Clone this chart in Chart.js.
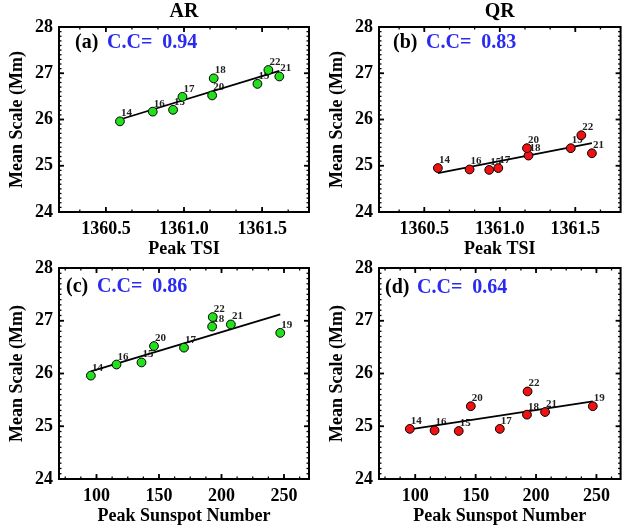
<!DOCTYPE html>
<html>
<head>
<meta charset="utf-8">
<title>Mean Scale vs Peak TSI / Peak Sunspot Number</title>
<script src="https://cdn.jsdelivr.net/npm/chart.js"></script>
<style>
  body { margin: 0; background: #fff; }
  .panel { position: absolute; }
</style>
</head>
<body>
<div class="panel" style="left:0;top:0;width:320px;height:262px"><canvas id="panelA"></canvas></div>
<div class="panel" style="left:320px;top:0;width:306px;height:262px"><canvas id="panelB"></canvas></div>
<div class="panel" style="left:0;top:250px;width:320px;height:281px"><canvas id="panelC"></canvas></div>
<div class="panel" style="left:320px;top:250px;width:306px;height:281px"><canvas id="panelD"></canvas></div>

<script>
// solar cycle numbers, in the order the points are listed
const cycles = ['14', '16', '15', '17', '18', '20', '19', '22', '21'];
const peakTsi = [1360.59, 1360.80, 1360.93, 1360.99, 1361.19, 1361.18, 1361.47, 1361.54, 1361.61];
const peakSunspot = [95.5, 116, 136, 170, 192.5, 146, 247, 193, 207.5];
const arMeanScale = [25.96, 26.17, 26.21, 26.49, 26.89, 26.52, 26.77, 27.07, 26.93];
const qrMeanScale = [24.95, 24.92, 24.91, 24.95, 25.22, 25.38, 25.38, 25.66, 25.27];

// fitted lines (end points)
const fitTsiX = [1360.59, 1361.61];
const fitArTsiY = [26.00, 27.05];
const fitQrTsiY = [24.84, 25.49];
const fitSunspotX = [95.5, 247];
const fitArSunspotY = [26.04, 27.12];
const fitQrSunspotY = [24.94, 25.47];

const corrCoef = ['0.94', '0.83', '0.86', '0.64'];

const tsiTicks = [1360.5, 1361.0, 1361.5];
const sunspotTicks = [100, 150, 200, 250];
const scaleTicks = [24, 25, 26, 27, 28];

const FONT = "'Liberation Serif', 'Times New Roman', serif";
const bold = (size) => ({ family: FONT, size: size, weight: 'bold' });

function minorSteps(min, max, origin, step) {
  const out = [];
  let v = origin - Math.floor((origin - min) / step) * step;
  for (; v <= max + 1e-9; v += step) out.push(v);
  return out;
}

const panelDecor = {
  id: 'panelDecor',
  beforeDatasetsDraw(chart) {
    // cycle number next to each point (drawn under the markers)
    const ctx = chart.ctx;
    const meta = chart.getDatasetMeta(0);
    ctx.save();
    ctx.font = `bold 11px ${FONT}`;
    ctx.fillStyle = '#222';
    ctx.textAlign = 'left';
    ctx.textBaseline = 'alphabetic';
    meta.data.forEach((pt, i) => ctx.fillText(cycles[i], pt.x + 1, pt.y - 5));
    ctx.restore();
  },
  afterDatasetsDraw(chart, args, o) {
    const { ctx, chartArea: a, scales } = chart;
    const xs = scales.x, ys = scales.y;
    const line = (x1, y1, x2, y2) => { ctx.beginPath(); ctx.moveTo(x1, y1); ctx.lineTo(x2, y2); ctx.stroke(); };
    ctx.save();
    ctx.strokeStyle = '#000';
    ctx.lineWidth = 1.3;
    minorSteps(xs.min, xs.max, o.xTicks[0], o.xMinor).forEach(v => {
      const p = xs.getPixelForValue(v);
      line(p, a.bottom, p, a.bottom - 2.5);
      line(p, a.top, p, a.top + 2.5);
    });
    minorSteps(ys.min, ys.max, scaleTicks[0], 0.1).forEach(v => {
      const p = ys.getPixelForValue(v);
      line(a.left, p, a.left + 2.5, p);
      line(a.right, p, a.right - 2.5, p);
    });
    ctx.lineWidth = 1.8;
    o.xTicks.forEach(v => {
      const p = xs.getPixelForValue(v);
      line(p, a.bottom, p, a.bottom - 5);
      line(p, a.top, p, a.top + 5);
    });
    scaleTicks.forEach(v => {
      const p = ys.getPixelForValue(v);
      line(a.left, p, a.left + 5, p);
      line(a.right, p, a.right - 5, p);
    });
    ctx.lineWidth = 2;
    ctx.strokeRect(a.left, a.top, a.right - a.left, a.bottom - a.top);
    ctx.restore();
  },
  afterDraw(chart, args, o) {
    const { ctx, chartArea: a } = chart;
    ctx.save();
    ctx.font = `bold 20px ${FONT}`;
    ctx.textBaseline = 'middle';
    ctx.textAlign = 'left';
    ctx.fillStyle = '#000';
    ctx.fillText(o.tag, a.left + o.tagX, a.top + o.textY);
    ctx.fillStyle = '#2a2af0';
    ctx.fillText('C.C=  ' + o.cc, a.left + o.ccX, a.top + o.textY);
    ctx.restore();
  }
};

function makePanel(id, cfg) {
  const scales = {
    x: {
      type: 'linear', position: 'bottom', min: cfg.xMin, max: cfg.xMax,
      afterBuildTicks: s => { s.ticks = cfg.xTicks.map(v => ({ value: v })); },
      ticks: { color: '#000', font: bold(18), padding: 7, autoSkip: false, maxRotation: 0, callback: cfg.xFormat },
      grid: { display: false, drawTicks: false },
      border: { display: false },
      title: { display: true, text: cfg.xTitle, color: '#000', font: bold(18), padding: { top: 0, bottom: cfg.xTitlePad } },
      afterFit: s => { s.height = cfg.xHeight; }
    },
    y: {
      type: 'linear', position: 'left', min: 24, max: 28,
      afterBuildTicks: s => { s.ticks = scaleTicks.map(v => ({ value: v })); },
      ticks: { color: '#000', font: bold(18), padding: 6, callback: v => String(v) },
      grid: { display: false, drawTicks: false },
      border: { display: false },
      title: { display: true, text: 'Mean Scale (Mm)', color: '#000', font: bold(18), padding: { top: 7, bottom: 0 } },
      afterFit: s => { s.width = 59; }
    }
  };
  if (cfg.topTitle) {
    scales.x2 = {
      type: 'linear', position: 'top', min: cfg.xMin, max: cfg.xMax,
      ticks: { display: false },
      grid: { display: false, drawTicks: false },
      border: { display: false },
      title: { display: true, text: cfg.topTitle, color: '#000', font: bold(20), padding: 0 },
      afterFit: s => { s.height = 27; }
    };
  }
  new Chart(document.getElementById(id), {
    type: 'scatter',
    data: {
      datasets: [
        {
          data: cfg.xs.map((x, i) => ({ x: x, y: cfg.ys[i] })),
          backgroundColor: cfg.color,
          borderColor: '#000',
          borderWidth: 1,
          pointRadius: 4.4,
          pointHoverRadius: 4.4
        },
        {
          type: 'line',
          data: cfg.fitX.map((x, i) => ({ x: x, y: cfg.fitY[i] })),
          borderColor: '#000',
          borderWidth: 1.8,
          pointRadius: 0,
          fill: false
        }
      ]
    },
    options: {
      responsive: true,
      maintainAspectRatio: false,
      animation: false,
      layout: { padding: cfg.padding },
      plugins: {
        legend: { display: false },
        tooltip: { enabled: false },
        panelDecor: { tag: cfg.tag, cc: cfg.cc, tagX: cfg.tagX, ccX: cfg.ccX, textY: cfg.textY, xTicks: cfg.xTicks, xMinor: cfg.xMinor }
      },
      scales: scales
    },
    plugins: [panelDecor]
  });
}

const GREEN = '#22e01c';
const RED = '#f01212';
const tsiFmt = v => Number(v).toFixed(1);
const ssnFmt = v => String(v);

makePanel('panelA', {
  xs: peakTsi, ys: arMeanScale, fitX: fitTsiX, fitY: fitArTsiY, color: GREEN,
  xMin: 1360.2, xMax: 1361.8, xTicks: tsiTicks, xMinor: 0.5 / 3, xFormat: tsiFmt,
  xTitle: 'Peak TSI', xTitlePad: 2, xHeight: 50, topTitle: 'AR',
  padding: { right: 11 }, tag: '(a)', cc: corrCoef[0], tagX: 16, ccX: 48, textY: 16
});
makePanel('panelB', {
  xs: peakTsi, ys: qrMeanScale, fitX: fitTsiX, fitY: fitQrTsiY, color: RED,
  xMin: 1360.2, xMax: 1361.8, xTicks: tsiTicks, xMinor: 0.5 / 3, xFormat: tsiFmt,
  xTitle: 'Peak TSI', xTitlePad: 2, xHeight: 50, topTitle: 'QR',
  padding: { right: 1 }, tag: '(b)', cc: corrCoef[1], tagX: 14, ccX: 47, textY: 16
});
makePanel('panelC', {
  xs: peakSunspot, ys: arMeanScale, fitX: fitSunspotX, fitY: fitArSunspotY, color: GREEN,
  xMin: 70, xMax: 270, xTicks: sunspotTicks, xMinor: 12.5, xFormat: ssnFmt,
  xTitle: 'Peak Sunspot Number', xTitlePad: 4, xHeight: 52,
  padding: { top: 18, right: 11 }, tag: '(c)', cc: corrCoef[2], tagX: 7, ccX: 38, textY: 19
});
makePanel('panelD', {
  xs: peakSunspot, ys: qrMeanScale, fitX: fitSunspotX, fitY: fitQrSunspotY, color: RED,
  xMin: 70, xMax: 270, xTicks: sunspotTicks, xMinor: 12.5, xFormat: ssnFmt,
  xTitle: 'Peak Sunspot Number', xTitlePad: 4, xHeight: 52,
  padding: { top: 18, right: 1 }, tag: '(d)', cc: corrCoef[3], tagX: 6, ccX: 38, textY: 20
});
</script>
</body>
</html>
